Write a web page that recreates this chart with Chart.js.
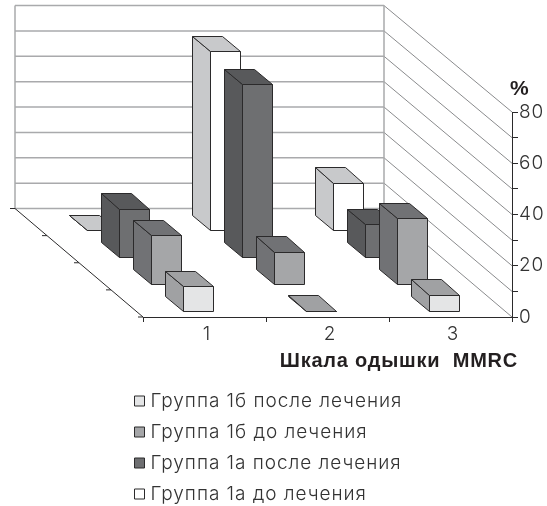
<!DOCTYPE html>
<html>
<head>
<meta charset="utf-8">
<script src="https://cdn.jsdelivr.net/npm/chart.js@4"></script>
<style>
  html, body { margin: 0; padding: 0; background: #fff; }
  canvas { display: block; }
</style>
</head>
<body>
<canvas id="myChart" width="547" height="506"></canvas>
<script>
const categories = ['1', '2', '3'];
const group1bAfter = [10, 0.4, 6.6];
const group1bBefore = [19.4, 12.8, 25.8];
const group1aAfter = [19, 67.6, 13];
const group1aBefore = [0, 70, 18.6];
const seriesNames = ['Группа 1б после лечения', 'Группа 1б до лечения', 'Группа 1а после лечения', 'Группа 1а до лечения'];
const xAxisTitle = 'Шкала одышки  MMRC';
const yAxisTitle = '%';

// the floor runs back this far from the front axis
const depthX = 128;
const depthY = 108.5;
const wallScale = 0.99;
const slots = seriesNames.length;
const frontGap = 0.2;
const barDepth = 0.56;

const fontFamily = 'Inter, "Liberation Sans", sans-serif';
const lineDark = '#2b2a2b';

function shift(x, y, depth) {
  return [x - depthX * depth, y - depthY * depth];
}

// snapped to the pixel grid so the outlines stay crisp
function poly(ctx, pts, fill, stroke) {
  ctx.beginPath();
  pts.forEach((p, i) => {
    const px = Math.round(p[0]) + 0.5;
    const py = Math.round(p[1]) + 0.5;
    if (i) ctx.lineTo(px, py);
    else ctx.moveTo(px, py);
  });
  ctx.closePath();
  ctx.fillStyle = fill;
  ctx.fill();
  ctx.strokeStyle = stroke;
  ctx.stroke();
}

// back wall, right wall and floor edges
const walls = {
  id: 'walls',
  beforeDatasetsDraw(chart) {
    const { ctx, chartArea: a, scales: { y } } = chart;
    const [bl] = shift(a.left, 0, 1);
    const [br] = shift(a.right, 0, 1);
    const floor = a.bottom - depthY;
    const wallY = (py) => floor - (a.bottom - py) * wallScale;
    ctx.save();
    y.ticks.forEach((tick) => {
      const py = y.getPixelForValue(tick.value);
      const by = wallY(py);
      ctx.lineWidth = 1.5;
      ctx.strokeStyle = '#a9aaac';
      ctx.beginPath();
      ctx.moveTo(bl, by);
      ctx.lineTo(br, by);
      ctx.stroke();
      ctx.lineWidth = 1;
      ctx.strokeStyle = '#8a8b8d';
      ctx.beginPath();
      ctx.moveTo(br, by);
      ctx.lineTo(a.right, py);
      ctx.stroke();
    });
    const top = wallY(y.getPixelForValue(80));
    ctx.lineWidth = 1.5;
    ctx.strokeStyle = '#a9aaac';
    ctx.beginPath();
    ctx.moveTo(bl, top);
    ctx.lineTo(bl, floor);
    ctx.moveTo(br, top);
    ctx.lineTo(br, floor);
    ctx.stroke();

    // left floor edge with its series ticks
    ctx.lineWidth = 1;
    ctx.strokeStyle = lineDark;
    ctx.beginPath();
    ctx.moveTo(bl, floor);
    ctx.lineTo(a.left, a.bottom);
    for (let i = 0; i <= slots; i++) {
      const [tx, ty] = shift(a.left, a.bottom, i / slots);
      ctx.moveTo(tx, ty);
      ctx.lineTo(tx - 5, ty);
    }
    ctx.stroke();
    ctx.restore();
  }
};

// each bar is extruded along the floor depth, using the positions the bar elements got from the scales
const boxes = {
  id: 'boxes',
  beforeDatasetDraw(chart, args) {
    const { ctx } = chart;
    const ds = chart.data.datasets[args.index];
    const front = (args.index + frontGap) / slots;
    const back = front + barDepth / slots;
    ctx.save();
    ctx.lineWidth = 1;
    ctx.lineJoin = 'round';
    args.meta.data.forEach((bar) => {
      const l = bar.x - bar.width / 2;
      const r = bar.x + bar.width / 2;
      const ftl = shift(l, bar.y, front);
      const ftr = shift(r, bar.y, front);
      const fbl = shift(l, bar.base, front);
      const fbr = shift(r, bar.base, front);
      const btl = shift(l, bar.y, back);
      const btr = shift(r, bar.y, back);
      const bbl = shift(l, bar.base, back);
      poly(ctx, [ftl, btl, bbl, fbl], ds.sideColor, lineDark);
      poly(ctx, [ftl, btl, btr, ftr], ds.sideColor, lineDark);
      poly(ctx, [ftl, ftr, fbr, fbl], ds.backgroundColor, lineDark);
    });
    ctx.restore();
    return false;
  }
};

const axisText = {
  id: 'axisText',
  // the light text is set with slightly open tracking
  beforeDraw(chart) {
    chart.ctx.letterSpacing = '0.95px';
  },
  afterDraw(chart) {
    const { ctx, chartArea: a } = chart;
    ctx.save();
    ctx.fillStyle = '#231f20';
    ctx.textBaseline = 'middle';
    ctx.letterSpacing = '0.75px';
    ctx.font = 'bold 20px "Liberation Sans", sans-serif';
    ctx.textAlign = 'right';
    ctx.fillText(xAxisTitle, 518, 361);
    ctx.textAlign = 'left';
    ctx.letterSpacing = '0px';
    ctx.font = 'bold 21px "Liberation Sans", sans-serif';
    ctx.fillText(yAxisTitle, a.right - 2, 89);
    ctx.restore();
  }
};

// the legend column sits below the axes, away from the plot
const legendPlace = {
  id: 'legendPlace',
  afterLayout(chart) {
    const lg = chart.legend;
    lg.left = 126;
    lg.right = 540;
    lg.top = 379.5;
    lg.bottom = 1000;
  }
};

const ctx = document.getElementById('myChart').getContext('2d');
new Chart(ctx, {
  type: 'bar',
  data: {
    labels: categories,
    datasets: [
      { label: seriesNames[0], data: group1bAfter, backgroundColor: '#e4e5e6', sideColor: '#a0a1a3', borderColor: lineDark, borderWidth: 1 },
      { label: seriesNames[1], data: group1bBefore, backgroundColor: '#a5a6a8', sideColor: '#717275', borderColor: lineDark, borderWidth: 1 },
      { label: seriesNames[2], data: group1aAfter, backgroundColor: '#6e6f71', sideColor: '#58595b', borderColor: lineDark, borderWidth: 1 },
      { label: seriesNames[3], data: group1aBefore, backgroundColor: '#ffffff', sideColor: '#c8c9cb', borderColor: lineDark, borderWidth: 1 }
    ]
  },
  plugins: [walls, boxes, axisText, legendPlace],
  options: {
    responsive: false,
    animation: false,
    layout: { autoPadding: false, padding: { left: 143, top: 112, right: 0, bottom: 0 } },
    datasets: { bar: { grouped: false, barThickness: 30.4 } },
    scales: {
      x: {
        offset: true,
        afterFit(scale) { scale.height = 189; },
        border: { color: lineDark },
        grid: { offset: true, drawOnChartArea: false, tickLength: 5, color: lineDark },
        ticks: { color: '#333', font: { family: fontFamily, size: 19, weight: '300' }, padding: 1, labelOffset: 2.5, maxRotation: 0 }
      },
      y: {
        position: 'right',
        min: 0,
        max: 80,
        afterFit(scale) { scale.width = 35; },
        border: { color: lineDark },
        grid: { drawOnChartArea: false, tickLength: 6, color: lineDark },
        ticks: {
          stepSize: 10,
          autoSkip: false,
          color: '#333',
          padding: 1,
          font: { family: fontFamily, size: 19, weight: '300' },
          callback: (v) => (v % 20 === 0 ? v : '')
        }
      }
    },
    plugins: {
      tooltip: { enabled: false },
      title: { display: false },
      legend: {
        position: 'chartArea',
        align: 'start',
        labels: {
          usePointStyle: true,
          pointStyle: 'rect',
          boxWidth: 3,
          boxHeight: 10,
          padding: 12,
          color: '#333',
          font: { family: fontFamily, size: 19, weight: '300' }
        }
      }
    }
  }
});
</script>
</body>
</html>
